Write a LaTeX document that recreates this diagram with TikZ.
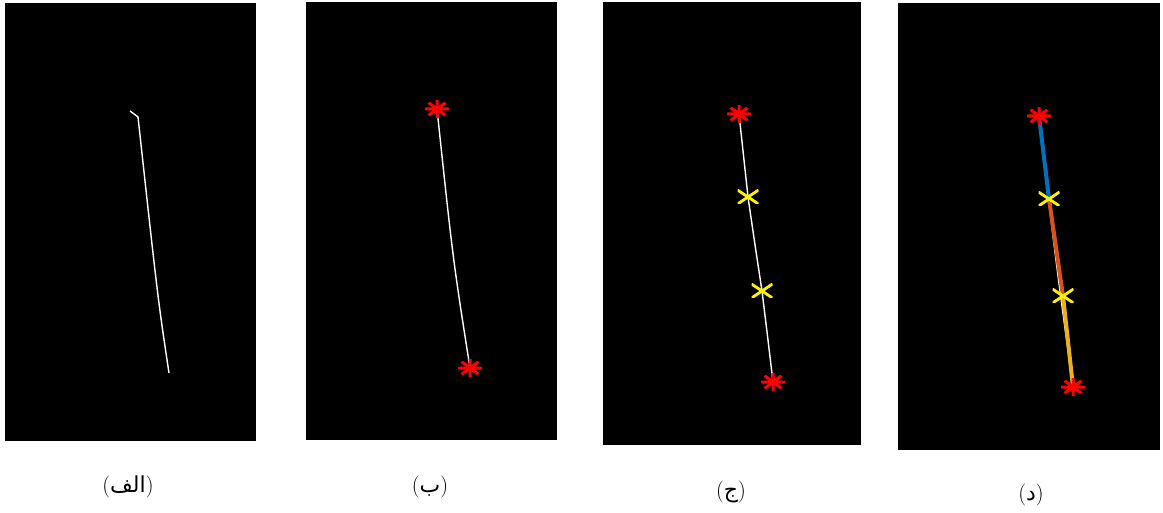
\documentclass[tikz,border=0pt]{standalone}
\usepackage{fontspec}
\newfontfamily\arabicfont[Script=Arabic]{DejaVu Sans}
\TeXXeTstate=1
\usetikzlibrary{shapes.geometric}

\definecolor{segblue}{rgb}{0,0.447,0.741}
\definecolor{segorange}{rgb}{0.85,0.325,0.098}
\definecolor{segyellow}{rgb}{0.929,0.694,0.125}

\pgfdeclarelayer{marks}
\pgfsetlayers{main,marks}

\begin{document}
\begin{tikzpicture}[x=1pt, y=-1pt,
    panel/.style={fill=black},
    track/.style={white, line width=1.4pt},
    seg/.style={line width=4pt},
    endpt/.style={ellipse, minimum width=24pt, minimum height=18pt, inner sep=0pt,
        path picture={\draw[red, line width=3pt]
            (path picture bounding box.north) -- (path picture bounding box.south)
            (path picture bounding box.east) -- (path picture bounding box.west)
            (path picture bounding box.north west) -- (path picture bounding box.south east)
            (path picture bounding box.north east) -- (path picture bounding box.south west);}},
    midpt/.style={rectangle, minimum width=21pt, minimum height=14pt, inner sep=0pt,
        path picture={\draw[yellow, line width=2.8pt]
            (path picture bounding box.north west) -- (path picture bounding box.south east)
            (path picture bounding box.north east) -- (path picture bounding box.south west);}},
    caption/.style={font=\fontsize{22}{26}\selectfont}]
    \useasboundingbox (0,0) rectangle (1163,513);

    % black frames
    \fill[panel] (5,3) rectangle (256,441);
    \fill[panel] (306,2) rectangle (557,440);
    \fill[panel] (603,2) rectangle (861,445);
    \fill[panel] (898,3) rectangle (1160,450);

    % markers
    \begin{pgfonlayer}{marks}
    \node[endpt] (bTop) at (437,109) {};
    \node[endpt] (bBot) at (470,368) {};

    \node[endpt] (cTop) at (739,114) {};
    \node[midpt] (cX1) at (748,197) {};
    \node[midpt] (cX2) at (762,291) {};
    \node[endpt] (cBot) at (773,382) {};

    \node[endpt] (dTop) at (1039,116) {};
    \node[midpt] (dX1) at (1049,199) {};
    \node[midpt] (dX2) at (1063,296) {};
    \node[endpt] (dBot) at (1073,387) {};
    \end{pgfonlayer}

    % (a) raw skeleton
    \coordinate (aHook) at (130,111);
    \coordinate (aTop) at (138,117);
    \coordinate (aBot) at (169,373);
    \draw[track] (aHook) -- (aTop) .. controls (158,300) .. (aBot);

    % (b)
    \draw[track] (bTop.center) .. controls (453,260) .. (bBot.center);

    % (c)
    \draw[track] (cTop.center) .. controls (744,160) .. (cX1.center)
        .. controls (755,245) .. (cX2.center) .. controls (768,340) .. (cBot.center);

    % (d)
    \draw[track] (dTop.center) .. controls (1055,255) .. (dBot.center);
    \draw[seg, segblue] (dTop.center) -- (dX1.center);
    \draw[seg, segorange] (dX1.center) -- (dX2.center);
    \draw[seg, segyellow] (dX2.center) -- (dBot.center);

    % captions
    \node[caption] (capA) at (128,487) {({\arabicfont\beginR الف\endR})};
    \node[caption] (capB) at (430,487) {({\arabicfont\beginR ب\endR})};
    \node[caption] (capC) at (731,492) {({\arabicfont\beginR ج\endR})};
    \node[caption] (capD) at (1031,495) {({\arabicfont\beginR د\endR})};
\end{tikzpicture}
\end{document}
